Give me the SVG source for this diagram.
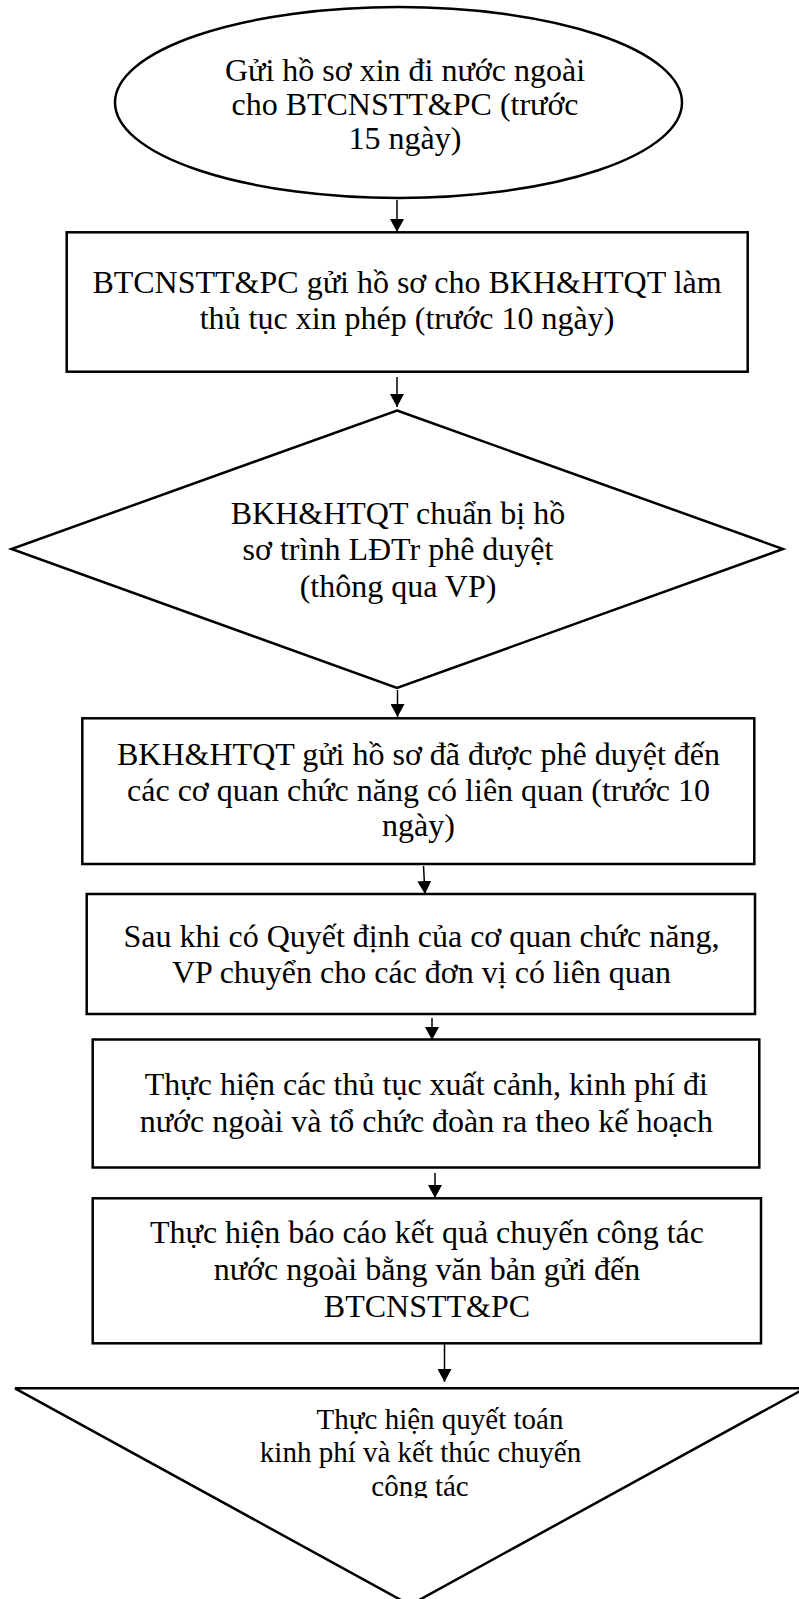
<svg xmlns="http://www.w3.org/2000/svg" width="799" height="1599" viewBox="0 0 799 1599">
<style>
.shape{fill:#fff;stroke:#000;stroke-width:2.5}
.t{font-family:"Liberation Serif","Times New Roman",serif;font-size:32px;fill:#000;text-anchor:middle}
.s29{font-size:29px}
.conn{stroke:#000;stroke-width:1.5;fill:none;marker-end:url(#ah)}
</style>
<defs>
<marker id="ah" markerUnits="userSpaceOnUse" viewBox="0 0 13 14" refX="13" refY="7" markerWidth="13" markerHeight="14" orient="auto"><path d="M0,0 L13,7 L0,14 z" fill="#000"/></marker>
<clipPath id="clipEnd"><rect x="0" y="1390" width="799" height="108"/></clipPath>
</defs>
<rect width="799" height="1599" fill="#fff"/>

<g id="connectors">
<line class="conn" x1="397" y1="200" x2="397" y2="232"/>
<line class="conn" x1="397" y1="377" x2="397" y2="407"/>
<line class="conn" x1="397.5" y1="690" x2="397.5" y2="717"/>
<line class="conn" x1="423.5" y1="866" x2="425" y2="894"/>
<line class="conn" x1="432" y1="1018" x2="432" y2="1040"/>
<line class="conn" x1="435" y1="1173" x2="435" y2="1198"/>
<line class="conn" x1="444.5" y1="1344" x2="444.5" y2="1382"/>
</g>

<g id="n1">
<ellipse class="shape" cx="398.5" cy="102.5" rx="283.5" ry="95.5"/>
<text class="t" x="405" y="81">Gửi hồ sơ xin đi nước ngoài</text>
<text class="t" x="405" y="115">cho BTCNSTT&amp;PC (trước</text>
<text class="t" x="405" y="149">15 ngày)</text>
</g>

<g id="n2">
<rect class="shape" x="66.7" y="232.3" width="681" height="139.4"/>
<text class="t" x="407" y="293">BTCNSTT&amp;PC gửi hồ sơ cho BKH&amp;HTQT làm</text>
<text class="t" x="407" y="329">thủ tục xin phép (trước 10 ngày)</text>
</g>

<g id="n3">
<polygon class="shape" points="397,410.5 783,549 397,688 11.5,549"/>
<text class="t" x="398" y="523.5">BKH&amp;HTQT chuẩn bị hồ</text>
<text class="t" x="398" y="560">sơ trình LĐTr phê duyệt</text>
<text class="t" x="398" y="596.5">(thông qua VP)</text>
</g>

<g id="n4">
<rect class="shape" x="82.3" y="718.3" width="672" height="145.7"/>
<text class="t" x="418.5" y="765">BKH&amp;HTQT gửi hồ sơ đã được phê duyệt đến</text>
<text class="t" x="418.5" y="800.7">các cơ quan chức năng có liên quan (trước 10</text>
<text class="t" x="418.5" y="836.4">ngày)</text>
</g>

<g id="n5">
<rect class="shape" x="86.7" y="894" width="668.3" height="120"/>
<text class="t" x="421.5" y="947">Sau khi có Quyết định của cơ quan chức năng,</text>
<text class="t" x="421.5" y="983">VP chuyển cho các đơn vị có liên quan</text>
</g>

<g id="n6">
<rect class="shape" x="92.7" y="1039.5" width="666.6" height="128"/>
<text class="t" x="426.3" y="1095.3">Thực hiện các thủ tục xuất cảnh, kinh phí đi</text>
<text class="t" x="426.3" y="1131.7">nước ngoài và tổ chức đoàn ra theo kế hoạch</text>
</g>

<g id="n7">
<rect class="shape" x="92.7" y="1198.3" width="668.3" height="145"/>
<text class="t" x="427" y="1243.3">Thực hiện báo cáo kết quả chuyến công tác</text>
<text class="t" x="427" y="1280">nước ngoài bằng văn bản gửi đến</text>
<text class="t" x="427" y="1316.7">BTCNSTT&amp;PC</text>
</g>

<g id="n8">
<polygon class="shape" points="15,1388.3 805,1388.3 410,1605"/>
<g clip-path="url(#clipEnd)">
<text class="t s29" x="440" y="1428.5">Thực hiện quyết toán</text>
<text class="t s29" x="420.5" y="1462">kinh phí và kết thúc chuyến</text>
<text class="t s29" x="420" y="1495.5">công tác</text>
</g>
</g>
</svg>
